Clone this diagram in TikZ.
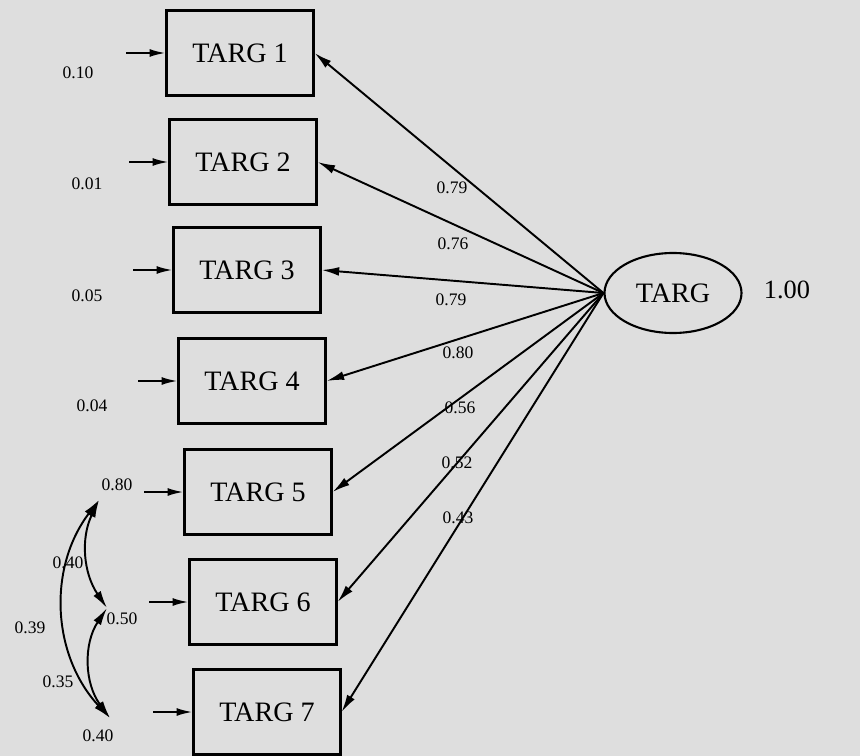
\documentclass[tikz,border=0pt]{standalone}
\usepackage{fontspec}
\setmainfont{Liberation Serif}
\usepackage{tikz}
\usetikzlibrary{arrows.meta,positioning,shapes.geometric}

\begin{document}
\begin{tikzpicture}[x=0.2mm,y=-0.2mm,
  obs/.style={draw,line width=1.2pt,minimum width=2.94cm,minimum height=1.7cm,inner sep=0pt,font=\fontsize{16}{18}\selectfont},
  lat/.style={draw,ellipse,line width=1.2pt,minimum width=2.74cm,minimum height=1.6cm,inner sep=0pt,font=\fontsize{16}{18}\selectfont},
  load/.style={line width=1.1pt,-{Latex[length=10pt,width=5pt]}},
  err/.style={line width=1.1pt,-{Latex[length=9pt,width=4.5pt]}},
  cov/.style={line width=1.1pt,{Latex[length=10pt,width=5pt]}-{Latex[length=10pt,width=5pt]}},
  num/.style={inner sep=0pt,font=\fontsize{10}{12}\selectfont}]

% Background
\fill[black!13] (0,0) rectangle (860,756);
\useasboundingbox (0,0) rectangle (860,756);

% Indicators
\node[obs] (t1) at (240,53) {TARG 1};
\node[obs] (t2) at (243,162) {TARG 2};
\node[obs] (t3) at (247,270) {TARG 3};
\node[obs] (t4) at (252,381) {TARG 4};
\node[obs] (t5) at (258,492) {TARG 5};
\node[obs] (t6) at (263,602) {TARG 6};
\node[obs] (t7) at (267,712) {TARG 7};

% Latent factor
\node[lat] (targ) at (673,293) {TARG};
\node[num,font=\fontsize{15}{17}\selectfont] (var) at (787,290) {1.00};

% Loadings
\draw[load] (targ.west) -- (t1.east);
\draw[load] (targ.west) -- (t2.east);
\draw[load] (targ.west) -- (t3.east);
\draw[load] (targ.west) -- (t4.east);
\draw[load] (targ.west) -- (t5.east);
\draw[load] (targ.west) -- (t6.east);
\draw[load] (targ.west) -- (t7.east);

\node[num] (l1) at (452,188) {0.79};
\node[num] (l2) at (453,244) {0.76};
\node[num] (l3) at (451,300) {0.79};
\node[num] (l4) at (458,353) {0.80};
\node[num] (l5) at (460,408) {0.56};
\node[num] (l6) at (457,463) {0.52};
\node[num] (l7) at (458,518) {0.43};

% Error terms
\coordinate[left=7.8mm of t1] (e1);
\coordinate[left=7.8mm of t2] (e2);
\coordinate[left=7.8mm of t3] (e3);
\coordinate[left=7.8mm of t4] (e4);
\coordinate[left=7.8mm of t5] (e5);
\coordinate[left=7.8mm of t6] (e6);
\coordinate[left=7.8mm of t7] (e7);

\draw[err] (e1) -- (t1);
\draw[err] (e2) -- (t2);
\draw[err] (e3) -- (t3);
\draw[err] (e4) -- (t4);
\draw[err] (e5) -- (t5);
\draw[err] (e6) -- (t6);
\draw[err] (e7) -- (t7);

\node[num] (v1) at (78,73) {0.10};
\node[num] (v2) at (87,184) {0.01};
\node[num] (v3) at (87,296) {0.05};
\node[num] (v4) at (92,406) {0.04};
\node[num] (v5) at (117,485) {0.80};
\node[num] (v6) at (122,619) {0.50};
\node[num] (v7) at (98,736) {0.40};

% Covariances
\coordinate (c5) at (99,500);
\coordinate (c6) at (107,608);
\coordinate (c7) at (110,718);

\draw[cov] (c5) to[bend right=30] (c6);
\draw[cov] (c6) to[bend right=35] (c7);
\draw[cov] (c5) to[bend right=40] (c7);

\node[num] (k56) at (68,563) {0.40};
\node[num] (k57) at (30,628) {0.39};
\node[num] (k67) at (58,682) {0.35};

\end{tikzpicture}
\end{document}
